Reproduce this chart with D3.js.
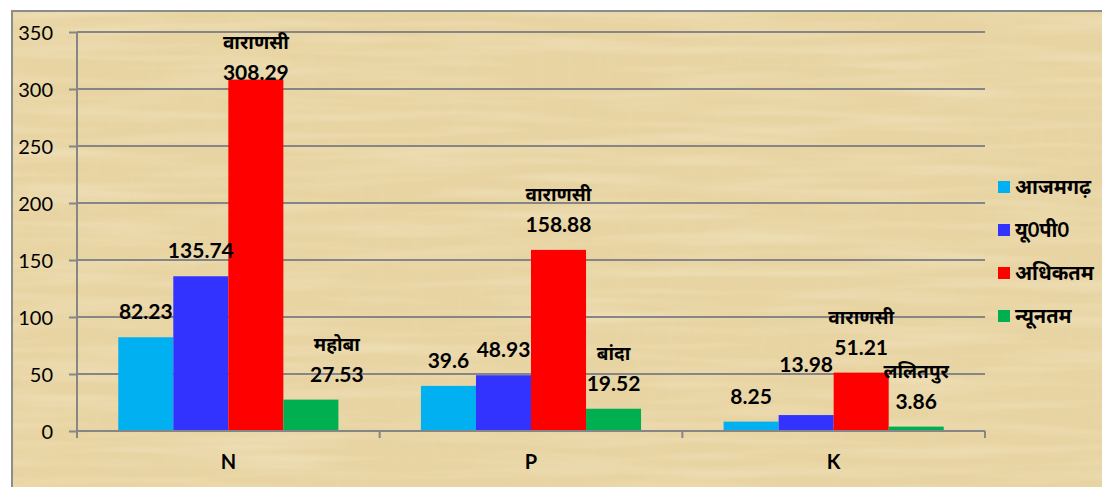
<!DOCTYPE html>
<html>
<head>
<meta charset="utf-8">
<script src="https://cdn.jsdelivr.net/npm/d3@7"></script>
<style>
  body { margin: 0; background: #fff; }
  text { font-family: "Lato", "Noto Sans", "Noto Sans Devanagari", sans-serif; fill: #000; }
</style>
</head>
<body>
<div id="chart"></div>
<script>
// Chart data
var categories = ["N", "P", "K"];
var seriesNames = ["आजमगढ़", "यू0पी0", "अधिकतम", "न्यूनतम"];
var seriesColors = ["#00B0F0", "#3333FF", "#FF0000", "#00B050"];
var azamgarh = [82.23, 39.6, 8.25];
var upState = [135.74, 48.93, 13.98];
var maximum = [308.29, 158.88, 51.21];
var minimum = [27.53, 19.52, 3.86];
var maxDistricts = ["वाराणसी", "वाराणसी", "वाराणसी"];
var minDistricts = ["महोबा", "बांदा", "ललितपुर"];
var yTicks = [0, 50, 100, 150, 200, 250, 300, 350];

var seriesValues = [azamgarh, upState, maximum, minimum];
var seriesDistricts = [null, null, maxDistricts, minDistricts];

// small label nudges where the labels were moved to avoid overlaps
var labelNudge = {
  "2-0": { dx: 0, dy: 18 },
  "3-0": { dx: 26, dy: 0 },
  "1-2": { dx: 0, dy: -25 }
};

var svgWidth = 1102;
var svgHeight = 487;

var svg = d3.select("#chart")
  .append("svg")
  .attr("width", svgWidth)
  .attr("height", svgHeight);

// papyrus like background
var defs = svg.append("defs");
var f1 = defs.append("filter").attr("id", "fibresH").attr("x", 0).attr("y", 0).attr("width", 1).attr("height", 1);
f1.append("feTurbulence").attr("type", "fractalNoise").attr("baseFrequency", "0.006 0.09").attr("numOctaves", 2).attr("seed", 3);
f1.append("feColorMatrix").attr("type", "matrix")
  .attr("values", "0 0 0 0 0.98  0 0 0 0 0.93  0 0 0 0 0.78  0 0 0 1.1 -0.45");
var f2 = defs.append("filter").attr("id", "fibresV").attr("x", 0).attr("y", 0).attr("width", 1).attr("height", 1);
f2.append("feTurbulence").attr("type", "fractalNoise").attr("baseFrequency", "0.09 0.006").attr("numOctaves", 2).attr("seed", 7);
f2.append("feColorMatrix").attr("type", "matrix")
  .attr("values", "0 0 0 0 0.80  0 0 0 0 0.70  0 0 0 0 0.48  0 0 0 0.9 -0.4");

svg.append("rect")
  .attr("x", 12).attr("y", 11)
  .attr("width", svgWidth).attr("height", svgHeight)
  .attr("fill", "#E8D4A2");
svg.append("rect")
  .attr("x", 12).attr("y", 11)
  .attr("width", svgWidth).attr("height", svgHeight)
  .attr("filter", "url(#fibresH)").attr("opacity", 0.55);
svg.append("rect")
  .attr("x", 12).attr("y", 11)
  .attr("width", svgWidth).attr("height", svgHeight)
  .attr("filter", "url(#fibresV)").attr("opacity", 0.4);
svg.append("rect")
  .attr("x", 12).attr("y", 11)
  .attr("width", svgWidth).attr("height", svgHeight)
  .attr("fill", "none")
  .attr("stroke", "#8C8C8C")
  .attr("stroke-width", 2);

// scales
var xScale = d3.scaleBand()
  .domain(categories)
  .range([77, 985])
  .padding(0);

var xInner = d3.scaleBand()
  .domain(d3.range(seriesNames.length))
  .range([0, xScale.bandwidth()])
  .paddingInner(0)
  .paddingOuter(0.75);

var yScale = d3.scaleLinear()
  .domain([0, 350])
  .range([431, 32]);

// gridlines + y axis
var leftAxis = d3.axisLeft(yScale)
  .tickValues(yTicks)
  .tickSize(8)
  .tickPadding(16);

var yAxisG = svg.append("g")
  .attr("transform", "translate(77,0)")
  .call(leftAxis);
yAxisG.select(".domain").remove();
yAxisG.selectAll(".tick line").attr("stroke", "#868686").attr("stroke-width", 2);
yAxisG.selectAll(".tick text")
  .style("font-size", "20px")
  .attr("dy", "0.36em");

svg.append("g")
  .selectAll("line")
  .data(yTicks.filter(d => d > 0))
  .enter()
  .append("line")
  .attr("x1", 77).attr("x2", 985)
  .attr("y1", d => yScale(d)).attr("y2", d => yScale(d))
  .attr("stroke", "#868686")
  .attr("stroke-width", 2);

// bars
var barGroups = svg.append("g")
  .selectAll("g")
  .data(categories)
  .enter()
  .append("g")
  .attr("transform", d => `translate(${xScale(d)},0)`);

barGroups.selectAll("rect")
  .data((c, ci) => seriesValues.map((vals, si) => ({ si: si, ci: ci, v: vals[ci] })))
  .enter()
  .append("rect")
  .attr("x", d => xInner(d.si))
  .attr("y", d => yScale(d.v))
  .attr("width", xInner.bandwidth())
  .attr("height", d => yScale(0) - yScale(d.v))
  .attr("fill", d => seriesColors[d.si]);

// x axis
var bottomAxis = d3.axisBottom(xScale).tickSize(0).tickPadding(24);
var xAxisG = svg.append("g")
  .attr("transform", "translate(0,431)")
  .call(bottomAxis);
xAxisG.select(".domain").remove();
xAxisG.selectAll(".tick text")
  .style("font-size", "20px")
  .style("font-weight", "bold");

svg.append("line")
  .attr("x1", 77).attr("x2", 985)
  .attr("y1", 431).attr("y2", 431)
  .attr("stroke", "#868686").attr("stroke-width", 2);
svg.append("line")
  .attr("x1", 77).attr("x2", 77)
  .attr("y1", yScale(350)).attr("y2", 438)
  .attr("stroke", "#868686").attr("stroke-width", 2);
svg.append("g")
  .selectAll("line")
  .data(categories.map(c => xScale(c) + xScale.bandwidth()))
  .enter()
  .append("line")
  .attr("x1", d => d).attr("x2", d => d)
  .attr("y1", 431).attr("y2", 438)
  .attr("stroke", "#868686").attr("stroke-width", 2);

// data labels
var labels = [];
seriesValues.forEach(function(vals, si) {
  vals.forEach(function(v, ci) {
    var n = labelNudge[si + "-" + ci] || { dx: 0, dy: 0 };
    labels.push({
      si: si, ci: ci, v: v,
      name: seriesDistricts[si] ? seriesDistricts[si][ci] : null,
      x: xScale(categories[ci]) + xInner(si) + xInner.bandwidth() / 2 + n.dx,
      y: yScale(v) - 18 + n.dy
    });
  });
});

svg.append("g")
  .selectAll("text")
  .data(labels)
  .enter()
  .append("text")
  .attr("x", d => d.x)
  .attr("y", d => d.y)
  .attr("text-anchor", "middle")
  .style("font-size", "21px")
  .style("font-weight", "bold")
  .text(d => d.v);

svg.append("g")
  .selectAll("text")
  .data(labels.filter(d => d.name))
  .enter()
  .append("text")
  .attr("x", d => d.x)
  .attr("y", d => d.y - 31)
  .attr("text-anchor", "middle")
  .style("font-size", "19px")
  .style("font-weight", "bold")
  .text(d => d.name);

// legend
var legend = svg.append("g")
  .selectAll("g")
  .data(seriesNames)
  .enter()
  .append("g")
  .attr("transform", (d, i) => `translate(998, ${187 + i * 43})`);

legend.append("rect")
  .attr("x", 0).attr("y", -6)
  .attr("width", 12).attr("height", 12)
  .attr("fill", (d, i) => seriesColors[i]);

legend.append("text")
  .attr("x", 17)
  .attr("y", 0)
  .attr("dy", "0.35em")
  .style("font-size", "20px")
  .style("font-weight", "bold")
  .text(d => d);
</script>
</body>
</html>
